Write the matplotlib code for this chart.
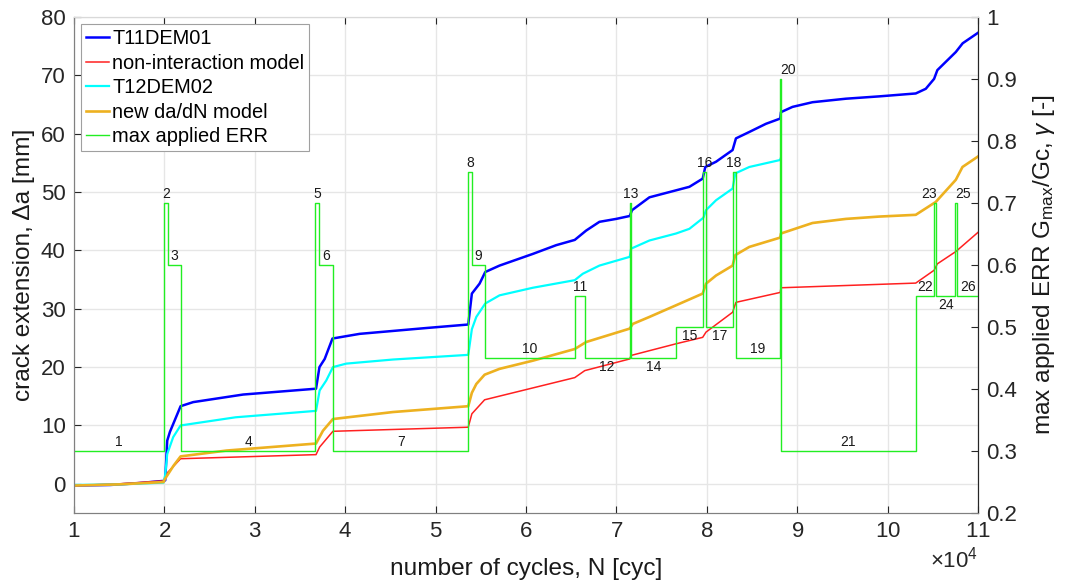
import matplotlib
matplotlib.use("Agg")
import matplotlib.pyplot as plt
from matplotlib.ticker import FuncFormatter, MultipleLocator
import numpy as np

plt.rcParams['font.family'] = ['Liberation Sans', 'DejaVu Sans']
plt.rcParams['mathtext.fontset'] = 'custom'
plt.rcParams['mathtext.rm'] = 'Liberation Sans'
plt.rcParams['mathtext.it'] = 'Liberation Sans:italic'

# ---- crack extension curves (N in cycles, da in mm) ----
n_t11 = [10000, 14000, 17000, 19900, 20090, 20310, 20610, 21790, 23180, 28710,
         36770, 37150, 37730, 38590, 41600, 48970, 53610, 54010, 54860, 55490,
         57070, 60750, 63340, 65390, 66650, 68120, 69970, 71470, 71730, 73650,
         76600, 78070, 79540, 79830, 81020, 82850, 83220, 84700, 86540, 88120,
         88200, 89480, 91690, 95380, 99060, 103110, 104220, 105140, 105500,
         107540, 108300, 110000]
da_t11 = [-0.3, -0.2, 0.1, 0.5, 0.6, 7.4, 8.9, 13.3, 14.0, 15.3,
          16.3, 20.0, 21.4, 24.9, 25.7, 26.7, 27.3, 32.6, 34.3, 36.3,
          37.4, 39.4, 40.9, 41.8, 43.4, 44.9, 45.4, 45.9, 46.9, 49.1,
          50.3, 50.9, 52.3, 54.3, 55.2, 57.2, 59.2, 60.3, 61.7, 62.6,
          63.7, 64.6, 65.4, 66.0, 66.4, 66.9, 67.7, 69.4, 70.9,
          74.0, 75.5, 77.3]

n_nonint = [10000, 15000, 19900, 20210, 21790, 36770, 37170, 38640, 53610, 54010,
            55420, 65390, 66500, 71470, 71620, 76600, 79540, 79910, 82850, 83220,
            88120, 88200, 103110, 105140, 105500, 107540, 110000]
da_nonint = [-0.3, 0.0, 0.5, 1.7, 4.3, 5.0, 6.3, 9.0, 9.7, 12.0,
             14.4, 18.2, 19.4, 21.4, 22.0, 24.0, 25.1, 26.0, 29.4, 31.1,
             32.8, 33.6, 34.4, 36.6, 37.7, 39.8, 43.1]

n_t12 = [10000, 15000, 19900, 20090, 20310, 20970, 21790, 27870, 36770, 37170,
         37900, 38640, 40120, 45280, 53610, 54010, 54500, 55490, 57070, 60750,
         65390, 66280, 68120, 71470, 71620, 73650, 76600, 78070, 79620, 79910,
         81020, 82850, 83150, 84700, 88120, 88150]
da_t12 = [-0.2, -0.1, 0.2, 1.5, 5.1, 8.0, 10.0, 11.4, 12.5, 16.0,
          17.7, 20.0, 20.6, 21.3, 22.1, 26.5, 28.6, 30.9, 32.3, 33.6,
          34.9, 36.0, 37.4, 38.9, 40.3, 41.7, 42.9, 43.7, 45.6, 46.9,
          48.6, 50.6, 53.2, 54.3, 55.5, 55.7]

n_new = [10000, 15000, 19900, 20090, 21010, 21790, 26880, 36770, 37540, 38640,
         45280, 53610, 54010, 54500, 55420, 57070, 60750, 65390, 66650, 71470,
         71810, 73650, 76600, 79540, 79910, 81020, 82850, 83150, 84700, 88120,
         88200, 91690, 95380, 99060, 103110, 105320, 107540, 108280, 110000]
da_new = [-0.3, -0.1, 0.3, 0.9, 3.1, 4.7, 5.7, 6.9, 9.1, 11.1,
          12.3, 13.3, 15.6, 17.1, 18.7, 19.7, 21.1, 23.1, 24.3, 26.6,
          27.4, 28.6, 30.6, 32.6, 34.3, 35.7, 37.4, 39.2, 40.6, 42.2,
          42.9, 44.7, 45.4, 45.8, 46.1, 48.3, 52.1, 54.3, 56.1]

# ---- applied load blocks: block edges (cycles) and max ERR ratio per block ----
block_edges = [10000, 20000, 20350, 21800, 36700, 37100, 38700, 53600, 54000,
               55500, 65400, 66500, 71450, 71650, 76600, 79600, 79900, 82850,
               83200, 88100, 88200, 103100, 105100, 105400, 107450, 107700, 110000]
block_err = [0.30, 0.70, 0.60, 0.30, 0.70, 0.60, 0.30, 0.75, 0.60, 0.45,
             0.55, 0.45, 0.70, 0.45, 0.50, 0.75, 0.50, 0.75, 0.45, 0.90,
             0.30, 0.55, 0.70, 0.55, 0.70, 0.55]
block_ids = [str(i) for i in range(1, 27)]
labels_below = {'12', '14', '15', '17', '24'}
labels_left = {'20', '25'}
labels_right = {'23'}

fig = plt.figure(figsize=(10.71, 5.83), dpi=100)
ax = fig.add_axes([0.0691, 0.1201, 0.9132 - 0.0691, 0.9708 - 0.1201])
ax2 = ax.twinx()

h1, = ax.plot(n_t11, da_t11, color='#0000ff', lw=1.8, label='T11DEM01')
h2, = ax.plot(n_nonint, da_nonint, color='#ff2020', lw=1.1, label='non-interaction model')
h3, = ax.plot(n_t12, da_t12, color='#00ffff', lw=1.6, label='T12DEM02')
h4, = ax.plot(n_new, da_new, color='#edb120', lw=1.9, label='new da/dN model')

err_y = block_err + [block_err[-1]]
h5, = ax2.step(block_edges, err_y, where='post', color='#22ee22', lw=1.0,
               label='max applied ERR')

# block numbers next to each load level
for i, lab in enumerate(block_ids):
    x0, x1 = block_edges[i], block_edges[i + 1]
    lvl = block_err[i]
    if lab in labels_left:
        xt, ha = x0, 'left'
    elif lab in labels_right:
        xt, ha = x1, 'right'
    else:
        xt, ha = 0.5 * (x0 + x1), 'center'
    if lab in labels_below:
        ax2.text(xt, lvl - 0.004, lab, ha=ha, va='top', fontsize=10, color='#1a1a1a')
    else:
        ax2.text(xt, lvl + 0.003, lab, ha=ha, va='bottom', fontsize=10, color='#1a1a1a')

ax.set_xlim(10000, 110000)
ax.set_ylim(-5, 80)
ax2.set_ylim(0.2, 1.0)
ax.xaxis.set_major_locator(MultipleLocator(10000))
ax2.yaxis.set_major_locator(MultipleLocator(0.1))
ax.set_yticks(np.arange(0, 81, 10))
ax2.yaxis.set_major_formatter(FuncFormatter(lambda v, p: f"{v:g}"))
ax.ticklabel_format(style='sci', axis='x', scilimits=(4, 4), useMathText=True)

ax.grid(True, color='#e6e6e6', lw=1.0)
ax.set_axisbelow(True)

tick_col = '#262626'
ax.tick_params(axis='both', direction='in', labelsize=16, colors=tick_col,
               length=5, top=True, pad=6)
ax2.tick_params(axis='y', direction='in', labelsize=16, colors=tick_col,
                length=5, pad=6)
ax.xaxis.get_offset_text().set_fontsize(16)

for a in (ax, ax2):
    a.spines['left'].set_color('#808080')
    a.spines['bottom'].set_color('#808080')
    a.spines['top'].set_color('#d9d9d9')
    a.spines['right'].set_color('#262626')

ax.set_xlabel('number of cycles, N [cyc]', fontsize=17.6, color='#1a1a1a', labelpad=11)
ax.set_ylabel('crack extension, Δa [mm]', fontsize=17.6, color='#1a1a1a', labelpad=4)
ax2.set_ylabel(r'max applied ERR G$_{\mathrm{max}}$/Gc, $\gamma$ [-]', fontsize=17.6,
               color='#1a1a1a', labelpad=10)

leg = ax2.legend(handles=[h1, h2, h3, h4, h5], loc='upper left',
                 bbox_to_anchor=(0.0, 1.0), borderaxespad=0.35, fontsize=14.4,
                 fancybox=False, framealpha=1.0, edgecolor='#a0a0a0',
                 handlelength=1.15, handletextpad=0.15, labelspacing=0.28,
                 borderpad=0.25)
leg.get_frame().set_linewidth(0.8)

fig.savefig('out.png', dpi=100)
